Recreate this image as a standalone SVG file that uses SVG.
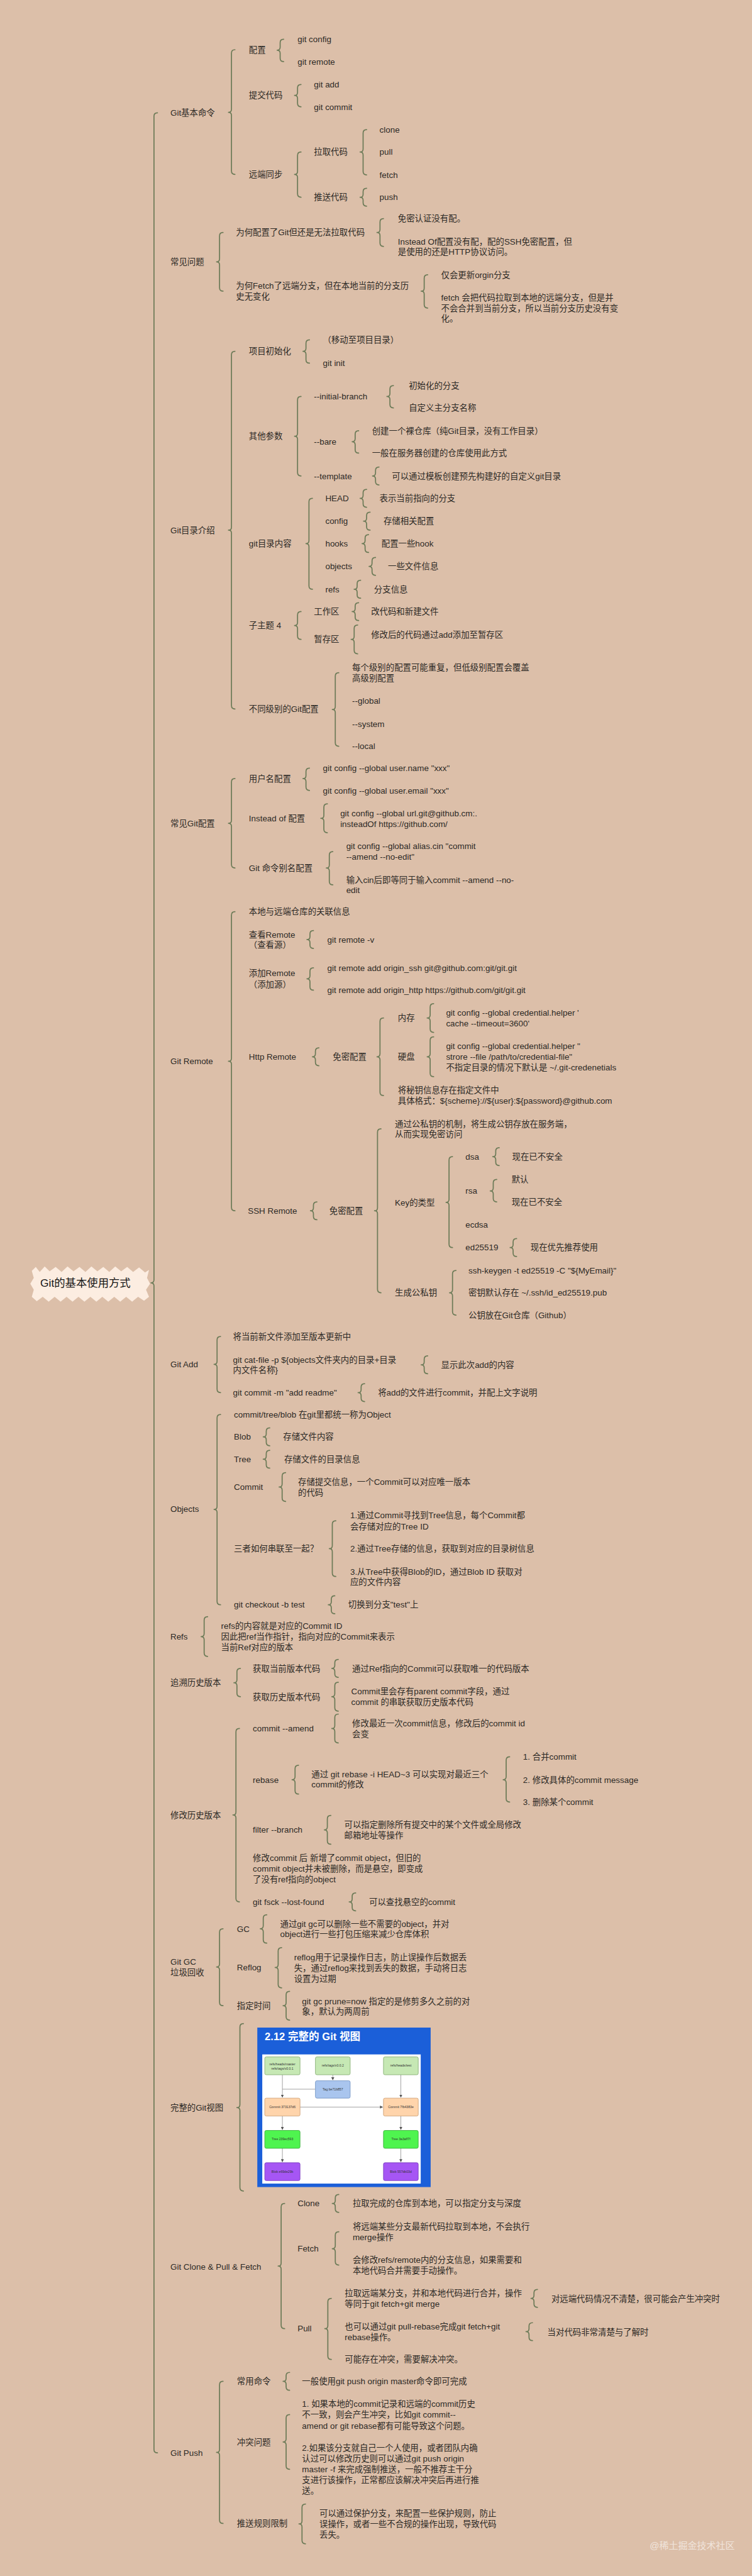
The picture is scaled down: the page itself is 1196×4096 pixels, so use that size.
<svg xmlns="http://www.w3.org/2000/svg" width="1196" height="4096" viewBox="0 0 1196 4096">
<style>
text{font-family:"Liberation Sans","Noto Sans CJK SC",sans-serif;font-size:17px;fill:#2d2a26}
.b{fill:none;stroke:#6d7b58;stroke-width:2.2;stroke-linecap:round;stroke-linejoin:round}
.root{font-size:22px;fill:#141414;text-anchor:middle}
.wm{font-size:19px;fill:#f6eee8;opacity:.8}
.gt{font-size:21px;font-weight:bold;fill:#ffffff}
.st{font-size:6.5px;fill:#333;text-anchor:middle}
.ln{stroke:#8a8a8a;stroke-width:1;fill:none}
.rf{fill:#c6e8b4;stroke:#7fa96c;stroke-width:1}
.tg{fill:#a9c5ee;stroke:#6f8fc0;stroke-width:1}
.cm{fill:#ffd4ab;stroke:#c99a6c;stroke-width:1}
.tr{fill:#4ff44f;stroke:#32a632;stroke-width:1}
.bl{fill:#a656f4;stroke:#7437b8;stroke-width:1}
</style>
<defs>
<marker id="ah" markerWidth="6" markerHeight="6" refX="5" refY="3" orient="auto"><path d="M0,0 L6,3 L0,6 z" fill="#555"/></marker>
</defs>
<rect x="0" y="0" width="1196" height="4096" fill="#dcbfa9"/>
<g transform="scale(0.79)">
<g id="connectors">
<path class="b" d="M317 227Q310 227 310 234L310 2576Q310 2582 304 2582Q310 2582 310 2588L310 4930Q310 4937 317 4937"/>
<path class="b" d="M473 100Q466 100 466 107L466 220Q466 226 460 226Q466 226 466 232L466 344Q466 351 473 351"/>
<path class="b" d="M571 79Q564 79 564 86L564 95Q564 101 558 101Q564 101 564 107L564 117Q564 124 571 124"/>
<path class="b" d="M606 170Q599 170 599 177L599 186Q599 192 593 192Q599 192 599 198L599 208Q599 215 606 215"/>
<path class="b" d="M606 306Q599 306 599 313L599 345Q599 351 593 351Q599 351 599 357L599 390Q599 397 606 397"/>
<path class="b" d="M738 261Q731 261 731 268L731 300Q731 306 725 306Q731 306 731 312L731 345Q731 352 738 352"/>
<path class="b" d="M738 379Q731 379 731 386L731 391Q731 397 725 397Q731 397 731 403L731 408Q731 415 738 415"/>
<path class="b" d="M449 468Q442 468 442 475L442 521Q442 527 436 527Q442 527 442 533L442 579Q442 586 449 586"/>
<path class="b" d="M772 440Q765 440 765 447L765 462Q765 468 759 468Q765 468 765 474L765 489Q765 496 772 496"/>
<path class="b" d="M861 553Q854 553 854 560L854 580Q854 586 848 586Q854 586 854 592L854 613Q854 620 861 620"/>
<path class="b" d="M473 707Q466 707 466 714L466 1061Q466 1067 460 1067Q466 1067 466 1073L466 1420Q466 1427 473 1427"/>
<path class="b" d="M623 684Q616 684 616 691L616 701Q616 707 610 707Q616 707 616 713L616 724Q616 731 623 731"/>
<path class="b" d="M606 798Q599 798 599 805L599 872Q599 878 593 878Q599 878 599 884L599 951Q599 958 606 958"/>
<path class="b" d="M792 776Q785 776 785 783L785 792Q785 798 779 798Q785 798 785 804L785 814Q785 821 792 821"/>
<path class="b" d="M722 867Q715 867 715 874L715 883Q715 889 709 889Q715 889 715 895L715 905Q715 912 722 912"/>
<path class="b" d="M763 940Q756 940 756 947L756 952Q756 958 750 958Q756 958 756 964L756 969Q756 976 763 976"/>
<path class="b" d="M629 1003Q622 1003 622 1010L622 1088Q622 1094 616 1094Q622 1094 622 1100L622 1179Q622 1186 629 1186"/>
<path class="b" d="M738 985Q731 985 731 992L731 997Q731 1003 725 1003Q731 1003 731 1009L731 1014Q731 1021 738 1021"/>
<path class="b" d="M745 1031Q738 1031 738 1038L738 1043Q738 1049 732 1049Q738 1049 738 1055L738 1060Q738 1067 745 1067"/>
<path class="b" d="M742 1076Q735 1076 735 1083L735 1088Q735 1094 729 1094Q735 1094 735 1100L735 1105Q735 1112 742 1112"/>
<path class="b" d="M756 1122Q749 1122 749 1129L749 1134Q749 1140 743 1140Q749 1140 749 1146L749 1151Q749 1158 756 1158"/>
<path class="b" d="M726 1168Q719 1168 719 1175L719 1180Q719 1186 713 1186Q719 1186 719 1192L719 1197Q719 1204 726 1204"/>
<path class="b" d="M606 1231Q599 1231 599 1238L599 1253Q599 1259 593 1259Q599 1259 599 1265L599 1280Q599 1287 606 1287"/>
<path class="b" d="M722 1213Q715 1213 715 1220L715 1225Q715 1231 709 1231Q715 1231 715 1237L715 1242Q715 1249 722 1249"/>
<path class="b" d="M720 1258Q713 1258 713 1265L713 1281Q713 1287 707 1287Q713 1287 713 1293L713 1309Q713 1316 720 1316"/>
<path class="b" d="M682 1354Q675 1354 675 1361L675 1422Q675 1428 669 1428Q675 1428 675 1434L675 1495Q675 1502 682 1502"/>
<path class="b" d="M473 1567Q466 1567 466 1574L466 1651Q466 1657 460 1657Q466 1657 466 1663L466 1740Q466 1747 473 1747"/>
<path class="b" d="M623 1546Q616 1546 616 1553L616 1561Q616 1567 610 1567Q616 1567 616 1573L616 1584Q616 1591 623 1591"/>
<path class="b" d="M659 1618Q652 1618 652 1625L652 1641Q652 1647 646 1647Q652 1647 652 1653L652 1669Q652 1676 659 1676"/>
<path class="b" d="M670 1714Q663 1714 663 1721L663 1741Q663 1747 657 1747Q663 1747 663 1753L663 1774Q663 1781 670 1781"/>
<path class="b" d="M473 1835Q466 1835 466 1842L466 2130Q466 2136 460 2136Q466 2136 466 2142L466 2430Q466 2437 473 2437"/>
<path class="b" d="M631 1873Q624 1873 624 1880L624 1885Q624 1891 618 1891Q624 1891 624 1897L624 1902Q624 1909 631 1909"/>
<path class="b" d="M631 1948Q624 1948 624 1955L624 1964Q624 1970 618 1970Q624 1970 624 1976L624 1986Q624 1993 631 1993"/>
<path class="b" d="M642 2109Q635 2109 635 2116L635 2121Q635 2127 629 2127Q635 2127 635 2133L635 2138Q635 2145 642 2145"/>
<path class="b" d="M772 2049Q765 2049 765 2056L765 2121Q765 2127 759 2127Q765 2127 765 2133L765 2198Q765 2205 772 2205"/>
<path class="b" d="M873 2020Q866 2020 866 2027L866 2043Q866 2049 860 2049Q866 2049 866 2055L866 2071Q866 2078 873 2078"/>
<path class="b" d="M873 2087Q866 2087 866 2094L866 2121Q866 2127 860 2127Q866 2127 866 2133L866 2160Q866 2167 873 2167"/>
<path class="b" d="M638 2419Q631 2419 631 2426L631 2431Q631 2437 625 2437Q631 2437 631 2443L631 2448Q631 2455 638 2455"/>
<path class="b" d="M767 2272Q760 2272 760 2279L760 2431Q760 2437 754 2437Q760 2437 760 2443L760 2595Q760 2602 767 2602"/>
<path class="b" d="M911 2328Q904 2328 904 2335L904 2414Q904 2420 898 2420Q904 2420 904 2426L904 2504Q904 2511 911 2511"/>
<path class="b" d="M1005 2310Q998 2310 998 2317L998 2322Q998 2328 992 2328Q998 2328 998 2334L998 2339Q998 2346 1005 2346"/>
<path class="b" d="M1000 2374Q993 2374 993 2381L993 2391Q993 2397 987 2397Q993 2397 993 2403L993 2412Q993 2419 1000 2419"/>
<path class="b" d="M1040 2493Q1033 2493 1033 2500L1033 2505Q1033 2511 1027 2511Q1033 2511 1033 2517L1033 2522Q1033 2529 1040 2529"/>
<path class="b" d="M918 2557Q911 2557 911 2564L911 2596Q911 2602 905 2602Q911 2602 911 2608L911 2640Q911 2647 918 2647"/>
<path class="b" d="M444 2690Q437 2690 437 2697L437 2740Q437 2746 431 2746Q437 2746 437 2752L437 2796Q437 2803 444 2803"/>
<path class="b" d="M861 2729Q854 2729 854 2736L854 2741Q854 2747 848 2747Q854 2747 854 2753L854 2758Q854 2765 861 2765"/>
<path class="b" d="M734 2785Q727 2785 727 2792L727 2797Q727 2803 721 2803Q727 2803 727 2809L727 2814Q727 2821 734 2821"/>
<path class="b" d="M444 2847Q437 2847 437 2854L437 3032Q437 3038 431 3038Q437 3038 437 3044L437 3223Q437 3230 444 3230"/>
<path class="b" d="M543 2874Q536 2874 536 2881L536 2886Q536 2892 530 2892Q536 2892 536 2898L536 2903Q536 2910 543 2910"/>
<path class="b" d="M543 2919Q536 2919 536 2926L536 2931Q536 2937 530 2937Q536 2937 536 2943L536 2948Q536 2955 543 2955"/>
<path class="b" d="M575 2964Q568 2964 568 2971L568 2987Q568 2993 562 2993Q568 2993 568 2999L568 3015Q568 3022 575 3022"/>
<path class="b" d="M676 3061Q669 3061 669 3068L669 3111Q669 3117 663 3117Q669 3117 669 3123L669 3166Q669 3173 676 3173"/>
<path class="b" d="M674 3212Q667 3212 667 3219L667 3224Q667 3230 661 3230Q667 3230 667 3236L667 3241Q667 3248 674 3248"/>
<path class="b" d="M418 3254Q411 3254 411 3261L411 3288Q411 3294 405 3294Q411 3294 411 3300L411 3327Q411 3334 418 3334"/>
<path class="b" d="M484 3358Q477 3358 477 3365L477 3381Q477 3387 471 3387Q477 3387 477 3393L477 3408Q477 3415 484 3415"/>
<path class="b" d="M681 3340Q674 3340 674 3347L674 3352Q674 3358 668 3358Q674 3358 674 3364L674 3369Q674 3376 681 3376"/>
<path class="b" d="M681 3386Q674 3386 674 3393L674 3409Q674 3415 668 3415Q674 3415 674 3421L674 3437Q674 3444 681 3444"/>
<path class="b" d="M482 3479Q475 3479 475 3486L475 3647Q475 3653 469 3653Q475 3653 475 3659L475 3821Q475 3828 482 3828"/>
<path class="b" d="M681 3450Q674 3450 674 3457L674 3473Q674 3479 668 3479Q674 3479 674 3485L674 3501Q674 3508 681 3508"/>
<path class="b" d="M601 3553Q594 3553 594 3560L594 3576Q594 3582 588 3582Q594 3582 594 3588L594 3604Q594 3611 601 3611"/>
<path class="b" d="M1026 3536Q1019 3536 1019 3543L1019 3576Q1019 3582 1013 3582Q1019 3582 1019 3588L1019 3620Q1019 3627 1026 3627"/>
<path class="b" d="M666 3654Q659 3654 659 3661L659 3677Q659 3683 653 3683Q659 3683 659 3689L659 3705Q659 3712 666 3712"/>
<path class="b" d="M716 3810Q709 3810 709 3817L709 3822Q709 3828 703 3828Q709 3828 709 3834L709 3839Q709 3846 716 3846"/>
<path class="b" d="M449 3882Q442 3882 442 3889L442 3953Q442 3959 436 3959Q442 3959 442 3965L442 4030Q442 4037 449 4037"/>
<path class="b" d="M537 3854Q530 3854 530 3861L530 3876Q530 3882 524 3882Q530 3882 530 3888L530 3904Q530 3911 537 3911"/>
<path class="b" d="M567 3920Q560 3920 560 3927L560 3954Q560 3960 554 3960Q560 3960 560 3966L560 3994Q560 4001 567 4001"/>
<path class="b" d="M583 4008Q576 4008 576 4015L576 4031Q576 4037 570 4037Q576 4037 576 4043L576 4059Q576 4066 583 4066"/>
<path class="b" d="M490 4073Q483 4073 483 4080L483 4236Q483 4242 477 4242Q483 4242 483 4248L483 4403Q483 4410 490 4410"/>
<path class="b" d="M573 4435Q566 4435 566 4442L566 4555Q566 4561 560 4561Q566 4561 566 4567L566 4680Q566 4687 573 4687"/>
<path class="b" d="M682 4417Q675 4417 675 4424L675 4429Q675 4435 669 4435Q675 4435 675 4441L675 4446Q675 4453 682 4453"/>
<path class="b" d="M682 4492Q675 4492 675 4499L675 4520Q675 4526 669 4526Q675 4526 675 4532L675 4552Q675 4559 682 4559"/>
<path class="b" d="M667 4626Q660 4626 660 4633L660 4681Q660 4687 654 4687Q660 4687 660 4693L660 4742Q660 4749 667 4749"/>
<path class="b" d="M1082 4608Q1075 4608 1075 4615L1075 4620Q1075 4626 1069 4626Q1075 4626 1075 4632L1075 4637Q1075 4644 1082 4644"/>
<path class="b" d="M1072 4675Q1065 4675 1065 4682L1065 4687Q1065 4693 1059 4693Q1065 4693 1065 4699L1065 4704Q1065 4711 1072 4711"/>
<path class="b" d="M449 4793Q442 4793 442 4800L442 4930Q442 4936 436 4936Q442 4936 442 4942L442 5072Q442 5079 449 5079"/>
<path class="b" d="M583 4775Q576 4775 576 4782L576 4787Q576 4793 570 4793Q576 4793 576 4799L576 4804Q576 4811 583 4811"/>
<path class="b" d="M583 4860Q576 4860 576 4867L576 4909Q576 4915 570 4915Q576 4915 576 4921L576 4963Q576 4970 583 4970"/>
<path class="b" d="M615 5040Q608 5040 608 5047L608 5074Q608 5080 602 5080Q608 5080 608 5086L608 5113Q608 5120 615 5120"/>
</g>

<g id="root">
<path d="M64 2558 L72 2550 L80 2560 L90 2549 L100 2559 L112 2550 L124 2560 L136 2549 L148 2559 L160 2550 L172 2560 L184 2549 L196 2559 L208 2550 L220 2560 L232 2549 L244 2559 L256 2550 L268 2560 L280 2551 L292 2561 L300 2556 L296 2572 L302 2584 L294 2596 L300 2610 L290 2618 L278 2610 L266 2620 L254 2610 L242 2620 L230 2610 L218 2620 L206 2610 L194 2620 L182 2610 L170 2620 L158 2610 L146 2620 L134 2610 L122 2620 L110 2610 L98 2620 L86 2610 L74 2619 L64 2610 L68 2596 L61 2584 L68 2572 Z" fill="#fcede1"/>
<text class="root" x="172" y="2590">Git的基本使用方式</text>
</g>

<g id="n-basic"><text x="343" y="233">Git基本命令</text></g>
<g id="n-peizhi"><text x="501" y="106">配置</text></g>
<g id="n-gitconfig"><text x="599" y="85">git config</text></g>
<g id="n-gitremote"><text x="599" y="130">git remote</text></g>
<g id="n-tijiao"><text x="501" y="198">提交代码</text></g>
<g id="n-gitadd"><text x="632" y="176">git add</text></g>
<g id="n-gitcommit"><text x="632" y="221">git commit</text></g>
<g id="n-yuanduan"><text x="501" y="357">远端同步</text></g>
<g id="n-laqu"><text x="632" y="312">拉取代码</text></g>
<g id="n-clone"><text x="764" y="267">clone</text></g>
<g id="n-pull"><text x="764" y="312">pull</text></g>
<g id="n-fetch"><text x="764" y="358">fetch</text></g>
<g id="n-tuisong"><text x="632" y="403">推送代码</text></g>
<g id="n-push"><text x="764" y="403">push</text></g>

<g id="n-faq"><text x="343" y="533">常见问题</text></g>
<g id="n-faq1"><text x="475" y="474">为何配置了Git但还是无法拉取代码</text></g>
<g id="n-faq1a"><text x="801" y="446">免密认证没有配。</text></g>
<g id="n-faq1b"><text x="801" y="492"><tspan x="801" y="492">Instead Of配置没有配，配的SSH免密配置，但</tspan><tspan x="801" y="513">是使用的还是HTTP协议访问。</tspan></text></g>
<g id="n-faq2"><text x="475" y="581"><tspan x="475" y="581">为何Fetch了远端分支，但在本地当前的分支历</tspan><tspan x="475" y="603">史无变化</tspan></text></g>
<g id="n-faq2a"><text x="888" y="559">仅会更新orgin分支</text></g>
<g id="n-faq2b"><text x="888" y="605"><tspan x="888" y="605">fetch 会把代码拉取到本地的远端分支，但是并</tspan><tspan x="888" y="626">不会合并到当前分支，所以当前分支历史没有变</tspan><tspan x="888" y="647">化。</tspan></text></g>

<g id="n-dir"><text x="343" y="1074">Git目录介绍</text></g>
<g id="n-init"><text x="501" y="713">项目初始化</text></g>
<g id="n-init1"><text x="650" y="690">（移动至项目目录）</text></g>
<g id="n-init2"><text x="650" y="737">git init</text></g>
<g id="n-params"><text x="501" y="884">其他参数</text></g>
<g id="n-ib"><text x="632" y="804">--initial-branch</text></g>
<g id="n-ib1"><text x="823" y="782">初始化的分支</text></g>
<g id="n-ib2"><text x="823" y="827">自定义主分支名称</text></g>
<g id="n-bare"><text x="632" y="895">--bare</text></g>
<g id="n-bare1"><text x="749" y="873">创建一个裸仓库（纯Git目录，没有工作目录）</text></g>
<g id="n-bare2"><text x="749" y="918">一般在服务器创建的仓库使用此方式</text></g>
<g id="n-tpl"><text x="632" y="964">--template</text></g>
<g id="n-tpl1"><text x="789" y="964">可以通过模板创建预先构建好的自定义git目录</text></g>
<g id="n-content"><text x="501" y="1100">git目录内容</text></g>
<g id="n-head"><text x="655" y="1009">HEAD</text></g>
<g id="n-head1"><text x="764" y="1009">表示当前指向的分支</text></g>
<g id="n-config"><text x="655" y="1055">config</text></g>
<g id="n-config1"><text x="772" y="1055">存储相关配置</text></g>
<g id="n-hooks"><text x="655" y="1100">hooks</text></g>
<g id="n-hooks1"><text x="768" y="1100">配置一些hook</text></g>
<g id="n-objects"><text x="655" y="1146">objects</text></g>
<g id="n-objects1"><text x="781" y="1146">一些文件信息</text></g>
<g id="n-refs"><text x="655" y="1192">refs</text></g>
<g id="n-refs1"><text x="753" y="1192">分支信息</text></g>
<g id="n-sub4"><text x="501" y="1265">子主题 4</text></g>
<g id="n-work"><text x="632" y="1237">工作区</text></g>
<g id="n-work1"><text x="747" y="1237">改代码和新建文件</text></g>
<g id="n-stage"><text x="632" y="1293">暂存区</text></g>
<g id="n-stage1"><text x="747" y="1283">修改后的代码通过add添加至暂存区</text></g>
<g id="n-levels"><text x="501" y="1433">不同级别的Git配置</text></g>
<g id="n-levels0"><text x="709" y="1349"><tspan x="709" y="1349">每个级别的配置可能重复，但低级别配置会覆盖</tspan><tspan x="709" y="1371">高级别配置</tspan></text></g>
<g id="n-global"><text x="709" y="1417">--global</text></g>
<g id="n-system"><text x="709" y="1463">--system</text></g>
<g id="n-local"><text x="709" y="1508">--local</text></g>

<g id="n-cfg"><text x="343" y="1663">常见Git配置</text></g>
<g id="n-user"><text x="501" y="1573">用户名配置</text></g>
<g id="n-user1"><text x="650" y="1552">git config --global user.name "xxx"</text></g>
<g id="n-user2"><text x="650" y="1597">git config --global user.email "xxx"</text></g>
<g id="n-insteadof"><text x="501" y="1653">Instead of 配置</text></g>
<g id="n-insteadof1"><text x="685" y="1643"><tspan x="685" y="1643">git config --global url.git@github.cm:.</tspan><tspan x="685" y="1664">insteadOf https://github.com/</tspan></text></g>
<g id="n-alias"><text x="501" y="1753">Git 命令别名配置</text></g>
<g id="n-alias1"><text x="697" y="1709"><tspan x="697" y="1709">git config --global alias.cin "commit</tspan><tspan x="697" y="1731">--amend --no-edit"</tspan></text></g>
<g id="n-alias2"><text x="697" y="1777"><tspan x="697" y="1777">输入cin后即等同于输入commit --amend --no-</tspan><tspan x="697" y="1798">edit</tspan></text></g>

<g id="n-remote"><text x="343" y="2142">Git Remote</text></g>
<g id="n-remote0"><text x="501" y="1841">本地与远端仓库的关联信息</text></g>
<g id="n-view"><text x="501" y="1887"><tspan x="501" y="1887">查看Remote</tspan><tspan x="501" y="1908">（查看源）</tspan></text></g>
<g id="n-view1"><text x="659" y="1897">git remote -v</text></g>
<g id="n-addr"><text x="501" y="1965"><tspan x="501" y="1965">添加Remote</tspan><tspan x="501" y="1987">（添加源）</tspan></text></g>
<g id="n-addr1"><text x="659" y="1954">git remote add origin_ssh git@github.com:git/git.git</text></g>
<g id="n-addr2"><text x="659" y="1999">git remote add origin_http https://github.com/git/git.git</text></g>
<g id="n-http"><text x="501" y="2133">Http Remote</text></g>
<g id="n-httpmm"><text x="670" y="2133">免密配置</text></g>
<g id="n-mem"><text x="801" y="2055">内存</text></g>
<g id="n-mem1"><text x="898" y="2044"><tspan x="898" y="2044">git config --global credential.helper '</tspan><tspan x="898" y="2066">cache --timeout=3600'</tspan></text></g>
<g id="n-disk"><text x="801" y="2133">硬盘</text></g>
<g id="n-disk1"><text x="898" y="2111"><tspan x="898" y="2111">git config --global credential.helper "</tspan><tspan x="898" y="2133">strore --file /path/to/credential-file"</tspan><tspan x="898" y="2155">不指定目录的情况下默认是 ~/.git-credenetials</tspan></text></g>
<g id="n-file"><text x="801" y="2200"><tspan x="801" y="2200">将秘钥信息存在指定文件中</tspan><tspan x="801" y="2222">具体格式：${scheme}://${user}:${password}@github.com</tspan></text></g>
<g id="n-ssh"><text x="499" y="2443">SSH Remote</text></g>
<g id="n-sshmm"><text x="663" y="2443">免密配置</text></g>
<g id="n-ssh0"><text x="795" y="2268"><tspan x="795" y="2268">通过公私钥的机制，将生成公钥存放在服务端，</tspan><tspan x="795" y="2289">从而实现免密访问</tspan></text></g>
<g id="n-keytype"><text x="795" y="2426">Key的类型</text></g>
<g id="n-dsa"><text x="937" y="2334">dsa</text></g>
<g id="n-dsa1"><text x="1031" y="2334">现在已不安全</text></g>
<g id="n-rsa"><text x="937" y="2403">rsa</text></g>
<g id="n-rsa1"><text x="1030" y="2380">默认</text></g>
<g id="n-rsa2"><text x="1030" y="2425">现在已不安全</text></g>
<g id="n-ecdsa"><text x="937" y="2471">ecdsa</text></g>
<g id="n-ed"><text x="937" y="2517">ed25519</text></g>
<g id="n-ed1"><text x="1068" y="2517">现在优先推荐使用</text></g>
<g id="n-gen"><text x="795" y="2608">生成公私钥</text></g>
<g id="n-gen1"><text x="943" y="2563">ssh-keygen -t ed25519 -C "${MyEmail}"</text></g>
<g id="n-gen2"><text x="943" y="2608">密钥默认存在 ~/.ssh/id_ed25519.pub</text></g>
<g id="n-gen3"><text x="943" y="2653">公钥放在Git仓库（Github）</text></g>

<g id="n-add"><text x="343" y="2752">Git Add</text></g>
<g id="n-add0"><text x="469" y="2696">将当前新文件添加至版本更新中</text></g>
<g id="n-catfile"><text x="469" y="2743"><tspan x="469" y="2743">git cat-file -p ${objects文件夹内的目录+目录</tspan><tspan x="469" y="2763">内文件名称}</tspan></text></g>
<g id="n-catfile1"><text x="888" y="2753">显示此次add的内容</text></g>
<g id="n-cm"><text x="469" y="2809">git commit -m "add readme"</text></g>
<g id="n-cm1"><text x="761" y="2809">将add的文件进行commit，并配上文字说明</text></g>

<g id="n-obj"><text x="343" y="3043">Objects</text></g>
<g id="n-obj0"><text x="471" y="2853">commit/tree/blob 在git里都统一称为Object</text></g>
<g id="n-blob"><text x="471" y="2898">Blob</text></g>
<g id="n-blob1"><text x="570" y="2898">存储文件内容</text></g>
<g id="n-tree"><text x="471" y="2943">Tree</text></g>
<g id="n-tree1"><text x="572" y="2943">存储文件的目录信息</text></g>
<g id="n-commit"><text x="471" y="2999">Commit</text></g>
<g id="n-commit1"><text x="600" y="2989"><tspan x="600" y="2989">存储提交信息，一个Commit可以对应唯一版本</tspan><tspan x="600" y="3010">的代码</tspan></text></g>
<g id="n-link"><text x="471" y="3123">三者如何串联至一起？</text></g>
<g id="n-link1"><text x="705" y="3056"><tspan x="705" y="3056">1.通过Commit寻找到Tree信息，每个Commit都</tspan><tspan x="705" y="3078">会存储对应的Tree ID</tspan></text></g>
<g id="n-link2"><text x="705" y="3123">2.通过Tree存储的信息，获取到对应的目录树信息</text></g>
<g id="n-link3"><text x="705" y="3169"><tspan x="705" y="3169">3.从Tree中获得Blob的ID，通过Blob ID 获取对</tspan><tspan x="705" y="3190">应的文件内容</tspan></text></g>
<g id="n-checkout"><text x="471" y="3236">git checkout -b test</text></g>
<g id="n-checkout1"><text x="701" y="3236">切换到分支"test"上</text></g>

<g id="n-refsl"><text x="343" y="3300">Refs</text></g>
<g id="n-refsl1"><text x="445" y="3279"><tspan x="445" y="3279">refs的内容就是对应的Commit ID</tspan><tspan x="445" y="3300">因此把ref当作指针，指向对应的Commit来表示</tspan><tspan x="445" y="3321">当前Ref对应的版本</tspan></text></g>

<g id="n-trace"><text x="343" y="3393">追溯历史版本</text></g>
<g id="n-cur"><text x="509" y="3364">获取当前版本代码</text></g>
<g id="n-cur1"><text x="709" y="3364">通过Ref指向的Commit可以获取唯一的代码版本</text></g>
<g id="n-hist"><text x="509" y="3421">获取历史版本代码</text></g>
<g id="n-hist1"><text x="707" y="3410"><tspan x="707" y="3410">Commit里会存有parent commit字段，通过</tspan><tspan x="707" y="3432">commit 的串联获取历史版本代码</tspan></text></g>

<g id="n-modify"><text x="343" y="3659">修改历史版本</text></g>
<g id="n-amend"><text x="509" y="3485">commit --amend</text></g>
<g id="n-amend1"><text x="709" y="3475"><tspan x="709" y="3475">修改最近一次commit信息，修改后的commit id</tspan><tspan x="709" y="3496">会变</tspan></text></g>
<g id="n-rebase"><text x="509" y="3588">rebase</text></g>
<g id="n-rebase1"><text x="627" y="3577"><tspan x="627" y="3577">通过 git rebase -i HEAD~3 可以实现对最近三个</tspan><tspan x="627" y="3598">commit的修改</tspan></text></g>
<g id="n-rb1"><text x="1053" y="3542">1. 合并commit</text></g>
<g id="n-rb2"><text x="1053" y="3588">2. 修改具体的commit message</text></g>
<g id="n-rb3"><text x="1053" y="3633">3. 删除某个commit</text></g>
<g id="n-filter"><text x="509" y="3689">filter --branch</text></g>
<g id="n-filter1"><text x="693" y="3679"><tspan x="693" y="3679">可以指定删除所有提交中的某个文件或全局修改</tspan><tspan x="693" y="3700">邮箱地址等操作</tspan></text></g>
<g id="n-dangling"><text x="509" y="3746"><tspan x="509" y="3746">修改commit 后 新增了commit object，但旧的</tspan><tspan x="509" y="3767">commit object并未被删除，而是悬空，即变成</tspan><tspan x="509" y="3789">了没有ref指向的object</tspan></text></g>
<g id="n-fsck"><text x="509" y="3834">git fsck --lost-found</text></g>
<g id="n-fsck1"><text x="743" y="3834">可以查找悬空的commit</text></g>

<g id="n-gc"><text x="343" y="3954"><tspan x="343" y="3954">Git GC</tspan><tspan x="343" y="3976">垃圾回收</tspan></text></g>
<g id="n-gc1"><text x="477" y="3888">GC</text></g>
<g id="n-gc1a"><text x="564" y="3878"><tspan x="564" y="3878">通过git gc可以删除一些不需要的object，并对</tspan><tspan x="564" y="3899">object进行一些打包压缩来减少仓库体积</tspan></text></g>
<g id="n-reflog"><text x="477" y="3966">Reflog</text></g>
<g id="n-reflog1"><text x="592" y="3946"><tspan x="592" y="3946">reflog用于记录操作日志，防止误操作后数据丢</tspan><tspan x="592" y="3967">失，通过reflog来找到丢失的数据，手动将日志</tspan><tspan x="592" y="3988">设置为过期</tspan></text></g>
<g id="n-time"><text x="477" y="4043">指定时间</text></g>
<g id="n-time1"><text x="608" y="4034"><tspan x="608" y="4034">git gc prune=now 指定的是修剪多久之前的对</tspan><tspan x="608" y="4055">象，默认为两周前</tspan></text></g>

<g id="n-full"><text x="343" y="4248">完整的Git视图</text></g>
<g id="n-fullimg">
<rect x="518" y="4081" width="349" height="321" fill="#1b5fd9"/>
<text class="gt" x="533" y="4106">2.12 完整的 Git 视图</text>
<rect x="528" y="4135" width="319" height="260" fill="#ffffff"/>
<path class="ln" d="M568.5 4176V4221" marker-end="url(#ah)"/>
<path class="ln" d="M670 4176V4186" marker-end="url(#ah)"/>
<path class="ln" d="M635 4205H568.5" stroke-width="1.6"/>
<path class="ln" d="M807 4176V4221" marker-end="url(#ah)"/>
<path class="ln" d="M604 4241H770" marker-end="url(#ah)"/>
<path class="ln" d="M568.5 4259V4286" marker-end="url(#ah)"/>
<path class="ln" d="M807 4259V4286" marker-end="url(#ah)"/>
<path class="ln" d="M568.5 4324V4351" marker-end="url(#ah)"/>
<path class="ln" d="M807 4324V4351" marker-end="url(#ah)"/>
<rect class="rf" x="533" y="4140" width="71" height="36" rx="3"/>
<text class="st" x="568.5" y="4157">refs/heads/master</text>
<text class="st" x="568.5" y="4166">refs/tags/v0.0.1</text>
<rect class="rf" x="635" y="4140" width="70" height="36" rx="3"/>
<text class="st" x="670" y="4160">refs/tags/v0.0.2</text>
<rect class="rf" x="772" y="4140" width="70" height="36" rx="3"/>
<text class="st" x="807" y="4160">refs/heads/test</text>
<rect class="tg" x="635" y="4188" width="70" height="35" rx="3"/>
<text class="st" x="670" y="4208">Tag be71b857</text>
<rect class="cm" x="533" y="4223" width="71" height="36" rx="3"/>
<text class="st" x="568.5" y="4243">Commit 373137d6</text>
<rect class="cm" x="772" y="4223" width="70" height="36" rx="3"/>
<text class="st" x="807" y="4243">Commit 7fb4383e</text>
<rect class="tr" x="533" y="4288" width="71" height="36" rx="3"/>
<text class="st" x="568.5" y="4308">Tree 239ec593</text>
<rect class="tr" x="772" y="4288" width="70" height="36" rx="3"/>
<text class="st" x="807" y="4308">Tree 3a3aff7f</text>
<rect class="bl" x="533" y="4353" width="71" height="36" rx="3"/>
<text class="st" x="568.5" y="4373">Blob e69de29b</text>
<rect class="bl" x="772" y="4353" width="70" height="36" rx="3"/>
<text class="st" x="807" y="4373">Blob 557db03d</text>
</g>

<g id="n-cpf"><text x="343" y="4568">Git Clone &amp; Pull &amp; Fetch</text></g>
<g id="n-cl"><text x="599" y="4441">Clone</text></g>
<g id="n-cl1"><text x="710" y="4441">拉取完成的仓库到本地，可以指定分支与深度</text></g>
<g id="n-fe"><text x="599" y="4532">Fetch</text></g>
<g id="n-fe1"><text x="710" y="4487"><tspan x="710" y="4487">将远端某些分支最新代码拉取到本地，不会执行</tspan><tspan x="710" y="4509">merge操作</tspan></text></g>
<g id="n-fe2"><text x="710" y="4554"><tspan x="710" y="4554">会修改refs/remote内的分支信息，如果需要和</tspan><tspan x="710" y="4576">本地代码合并需要手动操作。</tspan></text></g>
<g id="n-pl"><text x="599" y="4693">Pull</text></g>
<g id="n-pl1"><text x="694" y="4622"><tspan x="694" y="4622">拉取远端某分支，并和本地代码进行合并，操作</tspan><tspan x="694" y="4643">等同于git fetch+git merge</tspan></text></g>
<g id="n-pl1a"><text x="1110" y="4633">对远端代码情况不清楚，很可能会产生冲突时</text></g>
<g id="n-pl2"><text x="694" y="4689"><tspan x="694" y="4689">也可以通过git pull-rebase完成git fetch+git</tspan><tspan x="694" y="4710">rebase操作。</tspan></text></g>
<g id="n-pl2a"><text x="1102" y="4700">当对代码非常清楚与了解时</text></g>
<g id="n-pl3"><text x="694" y="4755">可能存在冲突，需要解决冲突。</text></g>

<g id="n-gpush"><text x="343" y="4943">Git Push</text></g>
<g id="n-common"><text x="477" y="4799">常用命令</text></g>
<g id="n-common1"><text x="608" y="4799">一般使用git push origin master命令即可完成</text></g>
<g id="n-conflict"><text x="477" y="4921">冲突问题</text></g>
<g id="n-conflict1"><text x="608" y="4844"><tspan x="608" y="4844">1. 如果本地的commit记录和远端的commit历史</tspan><tspan x="608" y="4866">不一致，则会产生冲突，比如git commit--</tspan><tspan x="608" y="4888">amend or git rebase都有可能导致这个问题。</tspan></text></g>
<g id="n-conflict2"><text x="608" y="4933"><tspan x="608" y="4933">2.如果该分支就自己一个人使用，或者团队内确</tspan><tspan x="608" y="4955">认过可以修改历史则可以通过git push origin</tspan><tspan x="608" y="4976">master -f 来完成强制推送，一般不推荐主干分</tspan><tspan x="608" y="4998">支进行该操作，正常都应该解决冲突后再进行推</tspan><tspan x="608" y="5019">送。</tspan></text></g>
<g id="n-rule"><text x="477" y="5085">推送规则限制</text></g>
<g id="n-rule1"><text x="643" y="5064"><tspan x="643" y="5064">可以通过保护分支，来配置一些保护规则，防止</tspan><tspan x="643" y="5086">误操作，或者一些不合规的操作出现，导致代码</tspan><tspan x="643" y="5108">丢失。</tspan></text></g>

<text class="wm" x="1308" y="5131">@稀土掘金技术社区</text>
</g>
</svg>
